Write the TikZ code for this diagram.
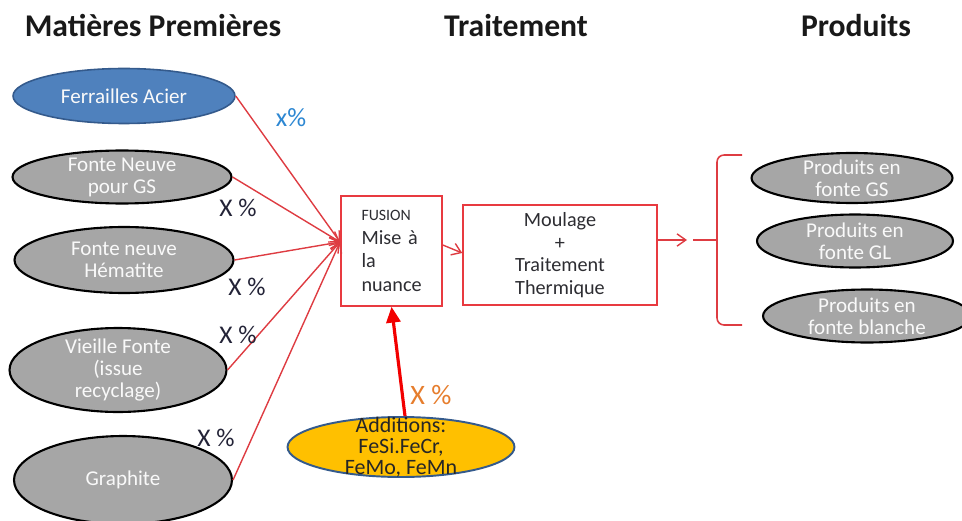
\documentclass[tikz,border=0pt]{standalone}
\usepackage{fontspec}
\setmainfont{Carlito}
\usepackage{tikz}
\definecolor{linered}{RGB}{222, 60, 66}
\definecolor{boxred}{RGB}{232, 58, 64}
\definecolor{steel}{RGB}{79, 129, 189}
\definecolor{steeldark}{RGB}{52, 90, 140}
\definecolor{castgray}{RGB}{166, 166, 166}
\definecolor{gold}{RGB}{255, 192, 0}
\definecolor{pctblue}{RGB}{45, 135, 210}
\definecolor{pctdark}{RGB}{35, 35, 55}
\definecolor{pctorange}{RGB}{230, 125, 45}
\definecolor{inkgray}{RGB}{45, 45, 50}
\usetikzlibrary{shapes.geometric, arrows.meta, positioning, calc}

\begin{document}
\begin{tikzpicture}[x=0.02cm, y=-0.02cm,
    >={Straight Barb[length=5pt, width=7pt]},
    raw/.style={ellipse, draw=black, line width=1.2pt, fill=castgray,
                text=white!95!gray, inner sep=-2pt, align=center,
                font=\fontsize{12}{12.5}\selectfont},
    procbox/.style={draw=boxred, line width=0.9pt, fill=white, text=inkgray},
    title/.style={font=\fontsize{18}{21}\selectfont\bfseries, text=black!90},
    pct/.style={font=\fontsize{14.5}{16}\selectfont, text=#1},
    feed/.style={->, line width=0.8pt, linered}
]
    \useasboundingbox (0,0) rectangle (962,520);

    % Titles
    \node[title] (tmat) at (153,26) {Matières Premières};
    \node[title] (ttrt) at (516,26) {Traitement};
    \node[title] (tprd) at (856,26) {Produits};

    % Matieres premieres
    \node[raw, fill=steel, draw=steeldark, line width=0.9pt,
          minimum width=4.44cm, minimum height=1.1cm] (fer) at (124,96) {Ferrailles Acier};
    \node[raw, minimum width=4.38cm, minimum height=1.06cm] (fng) at (122,177) {Fonte Neuve\\pour GS};
    \node[raw, minimum width=4.38cm, minimum height=1.32cm] (fnh) at (124,260) {Fonte neuve\\Hématite};
    \node[raw, minimum width=4.34cm, minimum height=1.68cm] (vf) at (118,370) {Vieille Fonte\\(issue\\recyclage)};
    \node[raw, minimum width=4.36cm, minimum height=1.76cm] (gra) at (123,480) {Graphite};

    % Traitement
    \node[procbox, minimum width=2.02cm, minimum height=2.2cm, text width=1.2cm, align=left,
          font=\fontsize{11.5}{13.5}\selectfont] (fus) at (391.5,251)
        {{\fontsize{9}{13.5}\selectfont FUSION}\\Mise à\\la\\nuance};
    \node[procbox, minimum width=3.88cm, minimum height=2.0cm, align=center,
          font=\fontsize{11.5}{12.8}\selectfont] (moul) at (560,255)
        {Moulage\\+\\Traitement\\Thermique};

    % Additions
    \node[ellipse, draw=steeldark, line width=1.1pt, fill=gold, inner sep=-8pt,
          minimum width=4.54cm, minimum height=1.2cm, align=center, text=black!85,
          font=\fontsize{12.5}{12}\selectfont] (add) at (401,447)
        {Additions:\\FeSi.FeCr,\\FeMo, FeMn};

    % Produits
    \node[raw, minimum width=4.02cm, minimum height=1.0cm] (pgs) at (852,178) {Produits en\\fonte GS};
    \node[raw, minimum width=3.92cm, minimum height=1.06cm] (pgl) at (855,241) {Produits en\\fonte GL};
    \node[raw, minimum width=4.16cm, minimum height=1.06cm] (pbl) at (867,316) {Produits en\\fonte blanche};

    % Arrows
    \coordinate (fin) at (340,242);
    \draw[feed] (fer.east) -- (fin);
    \draw[feed] (fng.east) -- (fin);
    \draw[feed] (fnh.east) -- (fin);
    \draw[feed] (vf.east) -- (fin);
    \draw[feed] (gra.east) -- (fin);
    \draw[feed] ($(fus.east)+(0,-6)$) -- ($(moul.west)+(0,-2)$);
    \coordinate (bout) at (687,240);
    \draw[feed] (moul.east |- bout) -- (bout);
    \draw[-{Triangle[length=9pt, width=8pt]}, line width=1.8pt, red!95!black]
        ($(add.north)+(4,0)$) -- (fus.south);

    % Accolade
    \coordinate (btip) at (717,240);
    \coordinate (bstub) at (693,240);
    \draw[linered, line width=0.9pt, rounded corners=4pt] (742,155) -- (717,155) -- (btip);
    \draw[linered, line width=0.9pt, rounded corners=4pt] (742,325) -- (717,325) -- (btip);
    \draw[linered, line width=0.9pt] (bstub) -- (btip);

    % Pourcentages
    \node[pct=pctblue, font=\fontsize{15}{17}\selectfont] (lfer) at (291,118) {x\%};
    \node[pct=pctdark] (lfng) at (238,208) {X \%};
    \node[pct=pctdark] (lfnh) at (247,287) {X \%};
    \node[pct=pctdark] (lvf) at (238,335) {X \%};
    \node[pct=pctdark] (lgra) at (216,438) {X \%};
    \node[pct=pctorange, font=\fontsize{16}{18}\selectfont] (ladd) at (431,395) {X \%};
\end{tikzpicture}
\end{document}
